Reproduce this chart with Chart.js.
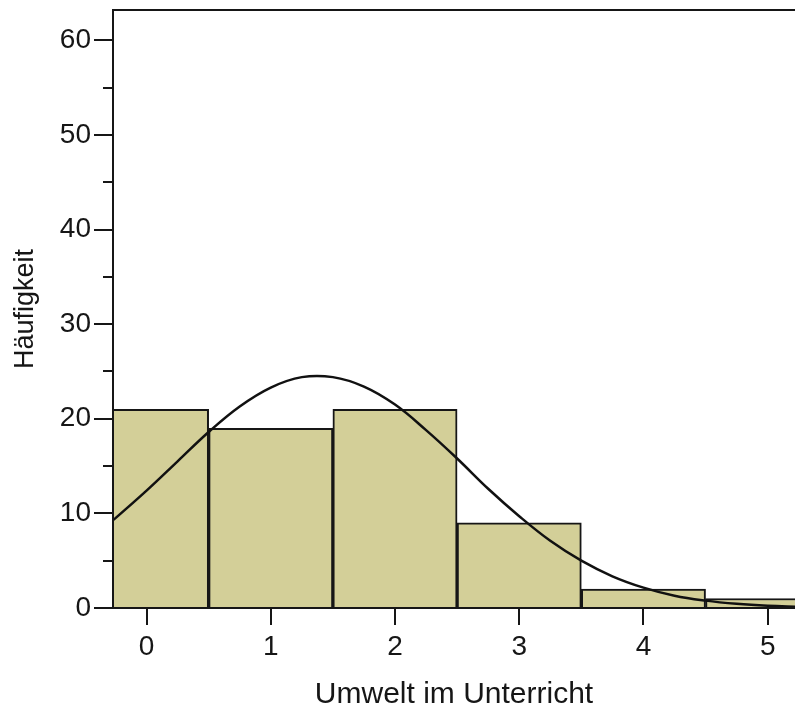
<!DOCTYPE html>
<html>
<head>
<meta charset="utf-8">
<script src="https://cdn.jsdelivr.net/npm/chart.js@4"></script>
<style>
  html, body { margin: 0; padding: 0; background: #fff; }
  #wrap { width: 795px; height: 711px; }
</style>
</head>
<body>
<div id="wrap"><canvas id="chart-hist"></canvas></div>
<script>
// histogram: counts per score
const scores = [0, 1, 2, 3, 4, 5];
const counts = [21, 19, 21, 9, 2, 1];

// normal curve overlay, read along the x axis
const curveX = [-0.3, -0.25, 0, 0.25, 0.5, 0.75, 1, 1.25, 1.5, 1.75, 2, 2.25, 2.5, 2.75, 3, 3.25, 3.5, 3.75, 4, 4.25, 4.5, 4.75, 5, 5.25];
const curveY = [9.0, 9.5, 12.4, 15.5, 18.6, 21.3, 23.3, 24.4, 24.4, 23.4, 21.5, 18.8, 15.8, 12.6, 9.7, 7.1, 5.0, 3.35, 2.15, 1.3, 0.78, 0.44, 0.23, 0.12];

const yTicks = [0, 10, 20, 30, 40, 50, 60];
const xTicks = [0, 1, 2, 3, 4, 5];

const ink = '#161616';
const fontFamily = '"Liberation Sans", Arial, sans-serif';

// axis frame and tick marks, drawn on top of the bars
const frame = {
  id: 'frame',
  afterDatasetsDraw(chart) {
    const {ctx, chartArea: a, scales: {x, y}} = chart;
    ctx.save();
    ctx.strokeStyle = ink;
    ctx.lineWidth = 2;
    ctx.beginPath();
    ctx.moveTo(a.left, a.bottom);
    ctx.lineTo(a.left, a.top);
    ctx.lineTo(chart.width, a.top);
    ctx.moveTo(a.left, a.bottom);
    ctx.lineTo(chart.width, a.bottom);
    for (let v = 0; v <= 60; v += 5) {
      const py = Math.round(y.getPixelForValue(v));
      ctx.moveTo(a.left - (v % 10 === 0 ? 19 : 10), py);
      ctx.lineTo(a.left, py);
    }
    xTicks.forEach(v => {
      const px = Math.round(x.getPixelForValue(v));
      ctx.moveTo(px, a.bottom);
      ctx.lineTo(px, a.bottom + 17);
    });
    ctx.stroke();
    ctx.restore();
  }
};

new Chart(document.getElementById('chart-hist'), {
  data: {
    datasets: [
      {
        type: 'line',
        order: 0,
        data: curveX.map((v, i) => ({x: v, y: curveY[i]})),
        borderColor: '#111',
        borderWidth: 2.5,
        pointRadius: 0,
        tension: 0.4,
        clip: 0
      },
      {
        type: 'bar',
        order: 1,
        data: scores.map((v, i) => ({x: v, y: counts[i]})),
        backgroundColor: '#d3cf98',
        borderColor: ink,
        borderWidth: 2,
        barPercentage: 1,
        categoryPercentage: 1,
        grouped: false,
        clip: 0
      }
    ]
  },
  options: {
    responsive: true,
    maintainAspectRatio: false,
    animation: false,
    layout: { padding: { top: 10, left: 0, right: 0, bottom: 0 } },
    plugins: { legend: { display: false }, tooltip: { enabled: false } },
    scales: {
      x: {
        type: 'linear',
        offset: false,
        min: -0.27,
        max: 5.22,
        afterFit(scale) {
          scale.height = 103;
          scale.paddingLeft = 0;
          scale.paddingRight = 0;
        },
        afterBuildTicks(scale) { scale.ticks = xTicks.map(v => ({value: v})); },
        grid: { display: false, drawTicks: false },
        border: { display: false },
        ticks: {
          padding: 22,
          color: ink,
          font: { family: fontFamily, size: 28 },
          maxRotation: 0
        },
        title: {
          display: true,
          text: 'Umwelt im Unterricht',
          color: ink,
          font: { family: fontFamily, size: 30, lineHeight: 1 },
          padding: { top: 0, bottom: 1 }
        }
      },
      y: {
        min: 0,
        max: 63.2,
        afterFit(scale) {
          scale.width = 113;
          scale.paddingTop = 0;
          scale.paddingBottom = 0;
        },
        afterBuildTicks(scale) { scale.ticks = yTicks.map(v => ({value: v})); },
        grid: { display: false, drawTicks: false },
        border: { display: false },
        ticks: {
          padding: 22,
          color: ink,
          font: { family: fontFamily, size: 28 }
        },
        title: {
          display: true,
          text: 'Häufigkeit',
          color: ink,
          font: { family: fontFamily, size: 27, lineHeight: 1 },
          padding: { top: 12, bottom: 0 }
        }
      }
    }
  },
  plugins: [frame]
});
</script>
</body>
</html>
